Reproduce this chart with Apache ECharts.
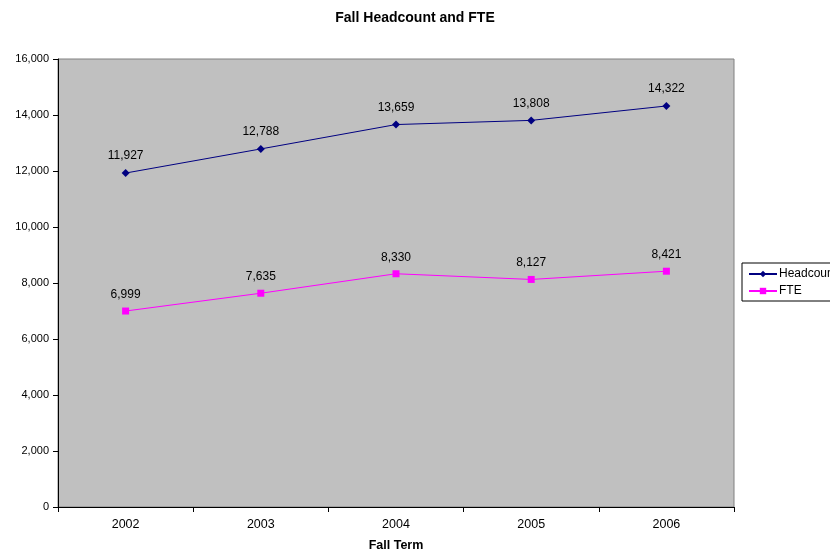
<!DOCTYPE html>
<html>
<head>
<meta charset="utf-8">
<script src="https://cdn.jsdelivr.net/npm/echarts@6/dist/echarts.min.js"></script>
<style>html,body{margin:0;padding:0;background:#fff;}#c{width:830px;height:552px;}</style>
</head>
<body>
<div id="c"></div>
<script>
var categories = ['2002', '2003', '2004', '2005', '2006'];
var headcount = [11927, 12788, 13659, 13808, 14322];
var fte = [6999, 7635, 8330, 8127, 8421];
var yTicks = [0, 2000, 4000, 6000, 8000, 10000, 12000, 14000, 16000];

var chart = echarts.init(document.getElementById('c'));
var fmt = function (v) { return Number(v).toLocaleString('en-US'); };
var font = 'Liberation Sans, Arial, sans-serif';
chart.setOption({
  animation: false,
  backgroundColor: '#ffffff',
  textStyle: { fontFamily: font },
  title: {
    text: 'Fall Headcount and FTE',
    left: 'center', top: 6,
    textStyle: { fontSize: 14, fontWeight: 'bold', color: '#000', fontFamily: font }
  },
  legend: {
    orient: 'vertical',
    left: 742, top: 263,
    borderColor: '#000', borderWidth: 1,
    padding: [5, 6, 4, 6],
    itemGap: 5,
    itemWidth: 28, itemHeight: 8,
    textStyle: { fontSize: 12, color: '#000', fontFamily: font, padding: [0, 0, 0, -3] },
    data: ['Headcount', 'FTE']
  },
  grid: {
    left: 58, right: 96, top: 59, bottom: 45,
    outerBoundsMode: 'none', containLabel: false,
    show: true, backgroundColor: '#C0C0C0', borderColor: '#808080', borderWidth: 1
  },
  xAxis: {
    type: 'category',
    data: categories,
    boundaryGap: true,
    name: 'Fall Term', nameLocation: 'middle', nameGap: 32,
    nameTextStyle: { fontSize: 12.5, fontWeight: 'bold', color: '#000', fontFamily: font },
    axisLine: { lineStyle: { color: '#000', width: 1 } },
    axisTick: { show: true, length: 5, inside: false, lineStyle: { color: '#000' } },
    axisLabel: { fontSize: 12.5, color: '#000', margin: 11, fontFamily: font },
    splitLine: { show: false }
  },
  yAxis: {
    type: 'value',
    min: 0, max: 16000, interval: 2000,
    axisLine: { show: true, lineStyle: { color: '#000', width: 1 } },
    axisTick: { show: true, length: 5, lineStyle: { color: '#000' } },
    axisLabel: { fontSize: 11, color: '#000', margin: 9, fontFamily: font, formatter: fmt },
    splitLine: { show: false }
  },
  series: [
    {
      name: 'Headcount', type: 'line', data: headcount,
      symbol: 'diamond', symbolSize: 8,
      itemStyle: { color: '#000080' },
      lineStyle: { color: '#000080', width: 1 },
      label: { show: true, position: 'top', distance: 7, fontSize: 12, color: '#000', fontFamily: font, formatter: function (p) { return fmt(p.value); } }
    },
    {
      name: 'FTE', type: 'line', data: fte,
      symbol: 'rect', symbolSize: 7,
      itemStyle: { color: '#FF00FF' },
      lineStyle: { color: '#FF00FF', width: 1 },
      label: { show: true, position: 'top', distance: 7, fontSize: 12, color: '#000', fontFamily: font, formatter: function (p) { return fmt(p.value); } }
    }
  ]
});
</script>
</body>
</html>
